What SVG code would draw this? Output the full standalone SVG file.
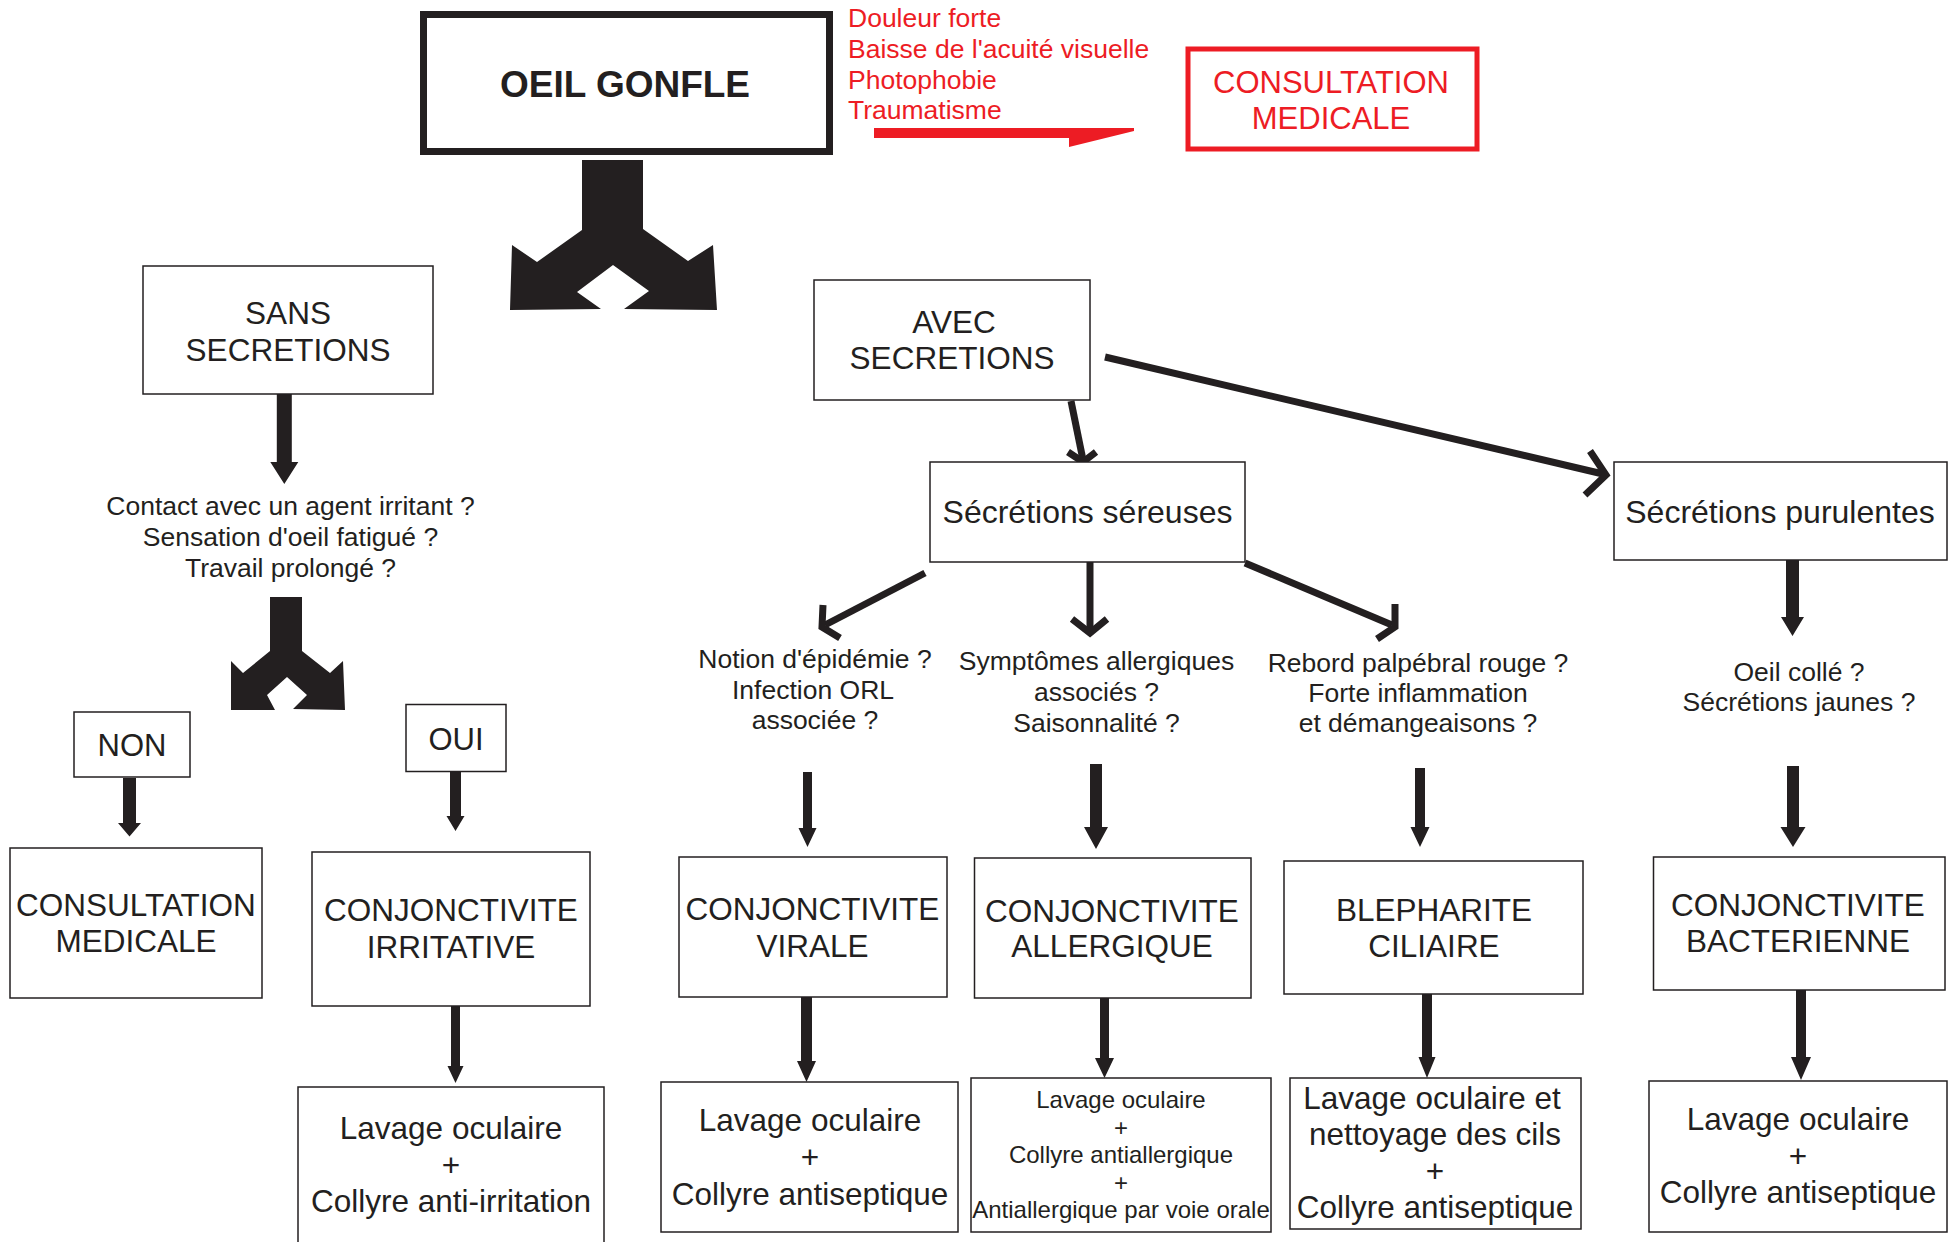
<svg xmlns="http://www.w3.org/2000/svg" width="1957" height="1242" viewBox="0 0 1957 1242">
<style>
.bg{fill:#ffffff}
.box{fill:#ffffff;stroke:#231f20;stroke-width:1.5}
.t{font-family:"Liberation Sans",Arial,Helvetica,sans-serif;fill:#231f20;text-anchor:middle}
.n{font-size:31.5px}
.q{font-size:26.5px}
.s{font-size:24px}
.red{font-family:"Liberation Sans",Arial,Helvetica,sans-serif;fill:#ed1c24;font-size:26.5px}
.redc{font-family:"Liberation Sans",Arial,Helvetica,sans-serif;fill:#ed1c24;font-size:31px;text-anchor:middle}
.fa{fill:#231f20}
.ln{fill:none;stroke:#231f20;stroke-width:7;stroke-linejoin:miter;stroke-linecap:butt}
</style>
<rect class="bg" x="0" y="0" width="1957" height="1242"/>

<g id="connectors">
  <polygon class="fa" points="582,160 643,160 643,229 688,261 713,245 717,310 624,309 649,291 613,265 577,292 601,309 510,310 512,245 537,262 582,230"/>
  <polygon class="fa" points="270,597 302,597 302,651 330,673 343,661 345,710 293,709 307,695 287,677 267,695 275,710 231,710 231,661 243,673 270,651"/>
  <polygon fill="#ed1c24" points="874,128 1134,128 1134,131 1069,147 1069,138 874,138"/>
  <polygon class="fa" points="276.8,394 291.8,394 291.8,462 298.3,462 284.3,484 270.3,462 276.8,462"/>
  <polygon class="fa" points="123,778 136,778 136,823 141,823 129.5,836.5 118,823 123,823"/>
  <polygon class="fa" points="450,772 461,772 461,816 464.5,816 455.5,831 446.5,816 450,816"/>
  <polygon class="fa" points="451,1006 460,1006 460,1066 463.5,1066 455.5,1083 447.5,1066 451,1066"/>
  <polygon class="fa" points="803,772 812,772 812,828 816.5,828 807.5,847 798.5,828 803,828"/>
  <polygon class="fa" points="1090,764 1102,764 1102,827 1108,827 1096,849 1084,827 1090,827"/>
  <polygon class="fa" points="1415,768 1425,768 1425,827 1429.5,827 1420,847 1410.5,827 1415,827"/>
  <polygon class="fa" points="1787,766 1799,766 1799,827 1805.5,827 1793,847 1780.5,827 1787,827"/>
  <polygon class="fa" points="1786,560 1799,560 1799,617 1804,617 1792.5,636 1781,617 1786,617"/>
  <polygon class="fa" points="801,997 812,997 812,1061 816,1061 806.5,1082 797,1061 801,1061"/>
  <polygon class="fa" points="1100,998 1109,998 1109,1058 1114,1058 1104.5,1078 1095,1058 1100,1058"/>
  <polygon class="fa" points="1422,994 1432,994 1432,1057 1435.5,1057 1427,1078 1418.5,1057 1422,1057"/>
  <polygon class="fa" points="1796,990 1806,990 1806,1057 1811,1057 1801,1080 1791,1057 1796,1057"/>
  <line class="ln" x1="1071" y1="401" x2="1083" y2="460"/>
  <polyline class="ln" points="1068,452 1083,462 1096,452"/>
  <line class="ln" x1="1105" y1="357" x2="1603" y2="474"/>
  <polyline class="ln" points="1590,451 1606,475 1585,495"/>
  <line class="ln" x1="925" y1="573" x2="825" y2="625"/>
  <polyline class="ln" points="823,605 822,627 840,638"/>
  <line class="ln" x1="1090" y1="562" x2="1090" y2="630"/>
  <polyline class="ln" points="1072,619 1090,633 1107,619"/>
  <line class="ln" x1="1245" y1="563" x2="1392" y2="625"/>
  <polyline class="ln" points="1395,604 1395,627 1377,639"/>
</g>

<g id="oeil-gonfle">
  <rect x="423.5" y="14.5" width="406" height="137" fill="#ffffff" stroke="#231f20" stroke-width="7"/>
  <text class="t" x="625" y="97" font-size="37" font-weight="bold">OEIL GONFLE</text>
</g>

<g id="criteres-urgence">
  <text class="red" x="848" y="27">Douleur forte</text>
  <text class="red" x="848" y="58">Baisse de l'acuité visuelle</text>
  <text class="red" x="848" y="88.5">Photophobie</text>
  <text class="red" x="848" y="118.5">Traumatisme</text>
</g>

<g id="consultation-urgente">
  <rect x="1188" y="49" width="289" height="100" fill="#ffffff" stroke="#ed1c24" stroke-width="5"/>
  <text class="redc" x="1331" y="92.5">CONSULTATION</text>
  <text class="redc" x="1331" y="128.5">MEDICALE</text>
</g>

<g id="sans-secretions">
  <rect class="box" x="143" y="266" width="290" height="128"/>
  <text class="t n" x="288" y="324">SANS</text>
  <text class="t n" x="288" y="361">SECRETIONS</text>
</g>

<g id="question-irritation">
  <text class="t q" x="290.5" y="515">Contact avec un agent irritant ?</text>
  <text class="t q" x="290.5" y="546">Sensation d'oeil fatigué ?</text>
  <text class="t q" x="290.5" y="577">Travail prolongé ?</text>
</g>

<g id="non">
  <rect class="box" x="74" y="712" width="116" height="65"/>
  <text class="t" x="132" y="756" font-size="31">NON</text>
</g>

<g id="oui">
  <rect class="box" x="406" y="704.5" width="100" height="67"/>
  <text class="t" x="456" y="750" font-size="31">OUI</text>
</g>

<g id="consultation-medicale">
  <rect class="box" x="10" y="848" width="252" height="150"/>
  <text class="t n" x="136" y="916">CONSULTATION</text>
  <text class="t n" x="136" y="952">MEDICALE</text>
</g>

<g id="conjonctivite-irritative">
  <rect class="box" x="312" y="852" width="278" height="154"/>
  <text class="t n" x="451" y="921">CONJONCTIVITE</text>
  <text class="t n" x="451" y="958">IRRITATIVE</text>
</g>

<g id="traitement-irritative">
  <rect class="box" x="298" y="1087" width="306" height="170"/>
  <text class="t n" x="451" y="1139">Lavage oculaire</text>
  <text class="t n" x="451" y="1175.5">+</text>
  <text class="t n" x="451" y="1212">Collyre anti-irritation</text>
</g>

<g id="avec-secretions">
  <rect class="box" x="814" y="280" width="276" height="120"/>
  <text class="t n" x="954" y="333">AVEC</text>
  <text class="t n" x="952" y="369">SECRETIONS</text>
</g>

<g id="secretions-sereuses">
  <rect class="box" x="930" y="462" width="315" height="100"/>
  <text class="t" x="1087.5" y="523" font-size="32">Sécrétions séreuses</text>
</g>

<g id="secretions-purulentes">
  <rect class="box" x="1614" y="462" width="333" height="98"/>
  <text class="t" x="1780" y="523" font-size="32">Sécrétions purulentes</text>
</g>

<g id="question-virale">
  <text class="t q" x="815" y="668">Notion d'épidémie ?</text>
  <text class="t q" x="813" y="698.5">Infection ORL</text>
  <text class="t q" x="815" y="729">associée ?</text>
</g>

<g id="question-allergique">
  <text class="t q" x="1096.5" y="670">Symptômes allergiques</text>
  <text class="t q" x="1096.5" y="701">associés ?</text>
  <text class="t q" x="1096.5" y="732">Saisonnalité ?</text>
</g>

<g id="question-blepharite">
  <text class="t q" x="1418" y="672">Rebord palpébral rouge ?</text>
  <text class="t q" x="1418" y="702">Forte inflammation</text>
  <text class="t q" x="1418" y="732">et démangeaisons ?</text>
</g>

<g id="question-bacterienne">
  <text class="t q" x="1799" y="681">Oeil collé ?</text>
  <text class="t q" x="1799" y="711">Sécrétions jaunes ?</text>
</g>

<g id="conjonctivite-virale">
  <rect class="box" x="679" y="857" width="268" height="140"/>
  <text class="t n" x="812.5" y="920">CONJONCTIVITE</text>
  <text class="t n" x="812.5" y="957">VIRALE</text>
</g>

<g id="conjonctivite-allergique">
  <rect class="box" x="974.5" y="858" width="276.5" height="140"/>
  <text class="t n" x="1112" y="922">CONJONCTIVITE</text>
  <text class="t n" x="1112" y="957">ALLERGIQUE</text>
</g>

<g id="blepharite-ciliaire">
  <rect class="box" x="1284" y="861" width="299" height="133"/>
  <text class="t n" x="1434" y="921">BLEPHARITE</text>
  <text class="t n" x="1434" y="957">CILIAIRE</text>
</g>

<g id="conjonctivite-bacterienne">
  <rect class="box" x="1653.5" y="857" width="291.5" height="133"/>
  <text class="t n" x="1798" y="916">CONJONCTIVITE</text>
  <text class="t n" x="1798" y="952">BACTERIENNE</text>
</g>

<g id="traitement-virale">
  <rect class="box" x="661" y="1082" width="297" height="150"/>
  <text class="t n" x="810" y="1131">Lavage oculaire</text>
  <text class="t n" x="810" y="1168">+</text>
  <text class="t n" x="810" y="1205">Collyre antiseptique</text>
</g>

<g id="traitement-allergique">
  <rect class="box" x="971" y="1078" width="300" height="154"/>
  <text class="t s" x="1121" y="1108">Lavage oculaire</text>
  <text class="t s" x="1121" y="1135.5">+</text>
  <text class="t s" x="1121" y="1163">Collyre antiallergique</text>
  <text class="t s" x="1121" y="1190.5">+</text>
  <text class="t s" x="1121" y="1218">Antiallergique par voie orale</text>
</g>

<g id="traitement-blepharite">
  <rect class="box" x="1290" y="1078" width="291" height="151"/>
  <text class="t n" x="1432" y="1109">Lavage oculaire et</text>
  <text class="t n" x="1435" y="1145">nettoyage des cils</text>
  <text class="t n" x="1435" y="1181.5">+</text>
  <text class="t n" x="1435" y="1218">Collyre antiseptique</text>
</g>

<g id="traitement-bacterienne">
  <rect class="box" x="1649" y="1081" width="298" height="151"/>
  <text class="t n" x="1798" y="1130">Lavage oculaire</text>
  <text class="t n" x="1798" y="1166.5">+</text>
  <text class="t n" x="1798" y="1203">Collyre antiseptique</text>
</g>
</svg>
